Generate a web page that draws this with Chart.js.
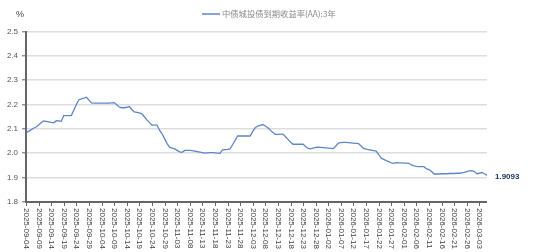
<!DOCTYPE html>
<html>
<head>
<meta charset="utf-8">
<script src="https://cdn.jsdelivr.net/npm/chart.js@4.4.1/dist/chart.umd.min.js"></script>
<style>
html,body{margin:0;padding:0;background:#fff;}
#wrap{position:relative;width:533px;height:252px;}
</style>
</head>
<body>
<div id="wrap"><canvas id="c" width="533" height="252"></canvas></div>
<script>
// ---- data ----
const seriesName = '中债城投债到期收益率(AA):3年';
const startDate = '2025-09-04';   // first calendar day; one category per calendar day
const tickEvery = 5;              // a date label every 5 days
const yields = [
  2.084,2.090,2.096,2.103,2.108,2.116,2.125,2.133,2.131,2.129,
  2.127,2.125,2.134,2.133,2.131,2.155,2.155,2.155,2.155,2.178,
  2.200,2.220,2.223,2.226,2.230,2.218,2.207,2.206,2.206,2.206,
  2.206,2.206,2.206,2.206,2.207,2.208,2.199,2.190,2.187,2.187,
  2.189,2.192,2.180,2.170,2.168,2.166,2.162,2.150,2.137,2.126,
  2.116,2.116,2.116,2.095,2.080,2.060,2.040,2.025,2.021,2.018,
  2.012,2.006,2.004,2.012,2.012,2.012,2.011,2.009,2.007,2.005,
  2.003,2.001,2.002,2.003,2.003,2.002,2.001,2.000,2.014,2.015,
  2.016,2.018,2.035,2.053,2.071,2.071,2.071,2.071,2.071,2.071,
  2.090,2.105,2.112,2.115,2.118,2.112,2.105,2.095,2.085,2.078,
  2.078,2.079,2.079,2.068,2.057,2.046,2.037,2.037,2.037,2.037,
  2.037,2.028,2.020,2.018,2.021,2.024,2.025,2.024,2.023,2.022,
  2.021,2.020,2.019,2.030,2.042,2.044,2.045,2.045,2.044,2.043,
  2.042,2.041,2.040,2.030,2.020,2.017,2.015,2.013,2.011,2.009,
  1.995,1.980,1.975,1.970,1.966,1.961,1.959,1.962,1.961,1.961,
  1.960,1.960,1.959,1.952,1.948,1.946,1.945,1.945,1.945,1.936,
  1.933,1.925,1.915,1.915,1.915,1.916,1.916,1.916,1.917,1.917,
  1.917,1.918,1.918,1.920,1.922,1.925,1.928,1.929,1.925,1.916,
  1.918,1.921,1.916,1.9093
];
const yMin = 1.8, yMax = 2.5, yStep = 0.1;
const unitLabel = '%';
const endLabel = '1.9093';

// ---- categories: calendar dates ----
function fmt(d){
  const m = String(d.getUTCMonth()+1).padStart(2,'0');
  const dd = String(d.getUTCDate()).padStart(2,'0');
  return d.getUTCFullYear()+'-'+m+'-'+dd;
}
const dates = [];
{
  const s = new Date(startDate+'T00:00:00Z');
  for (let i=0;i<yields.length;i++){
    dates.push(fmt(new Date(s.getTime()+i*86400000)));
  }
}

const LINE = '#5f86c4';
const AXIS = '#666666';

const decor = {
  id:'decor',
  afterDraw(chart){
    const ctx = chart.ctx;
    const x = chart.scales.x, y = chart.scales.y;
    const ca = chart.chartArea;
    ctx.save();
    // x axis line
    ctx.strokeStyle = AXIS; ctx.lineWidth = 2;
    ctx.beginPath(); ctx.moveTo(ca.left-1, ca.bottom); ctx.lineTo(ca.right, ca.bottom); ctx.stroke();
    // x ticks + rotated labels (reading top-to-bottom)
    ctx.lineWidth = 1;
    ctx.fillStyle = '#404040';
    ctx.font = '8px "Liberation Sans", Arial, sans-serif';
    ctx.textAlign = 'left'; ctx.textBaseline = 'middle';
    for (let i=0;i<dates.length;i+=tickEvery){
      const px = Math.round(x.getPixelForValue(i))+0.5;
      ctx.beginPath(); ctx.moveTo(px, ca.bottom); ctx.lineTo(px, ca.bottom+4); ctx.stroke();
      ctx.save();
      ctx.translate(px, ca.bottom+6);
      ctx.rotate(Math.PI/2);
      ctx.fillText(dates[i], 0, 0);
      ctx.restore();
    }
    // unit label
    ctx.fillStyle = '#404040';
    ctx.font = '9px "Liberation Sans", Arial, sans-serif';
    ctx.textAlign = 'left'; ctx.textBaseline = 'middle';
    ctx.fillText(unitLabel, 16, 15);
    // legend
    ctx.strokeStyle = LINE; ctx.lineWidth = 1.5;
    ctx.beginPath(); ctx.moveTo(202, 14); ctx.lineTo(220, 14); ctx.stroke();
    ctx.fillStyle = '#8a8a8a';
    ctx.font = '8.3px "Noto Sans CJK SC", sans-serif';
    ctx.fillText(seriesName, 222, 14);
    // end value label
    const last = yields[yields.length-1];
    ctx.fillStyle = '#1f3864';
    ctx.font = 'bold 8px "Liberation Sans", Arial, sans-serif';
    ctx.fillText(endLabel, 495, y.getPixelForValue(last)+1);
    ctx.restore();
  }
};

new Chart(document.getElementById('c'), {
  type:'line',
  data:{
    labels: dates,
    datasets:[{
      label: seriesName,
      data: yields,
      borderColor: LINE,
      borderWidth: 1.3,
      pointRadius: 0,
      tension: 0,
      fill: false
    }]
  },
  options:{
    responsive:false,
    maintainAspectRatio:false,
    animation:false,
    layout:{padding:{top:31.5, right:46, left:0, bottom:0}},
    plugins:{legend:{display:false}, tooltip:{enabled:false}},
    scales:{
      x:{
        type:'category',
        offset:false,
        grid:{display:false, drawTicks:false},
        border:{display:false},
        ticks:{display:false},
        afterFit(s){ s.height = 50; }
      },
      y:{
        min:yMin, max:yMax,
        afterBuildTicks(s){
          const t=[]; for(let v=yMin; v<=yMax+1e-9; v+=yStep) t.push({value:Math.round(v*10)/10}); s.ticks=t;
        },
        ticks:{
          color:'#555555',
          font:{size:8, family:'"Liberation Sans", Arial, sans-serif'},
          padding:4,
          callback:(v)=>Number(v).toFixed(1)
        },
        grid:{color:'#dddddd', lineWidth:1.6, drawTicks:true, tickLength:4, tickColor:AXIS, tickWidth:1},
        border:{display:true, color:AXIS, width:2},
        afterFit(s){ s.width = 26; }
      }
    }
  },
  plugins:[decor]
});
</script>
</body>
</html>
